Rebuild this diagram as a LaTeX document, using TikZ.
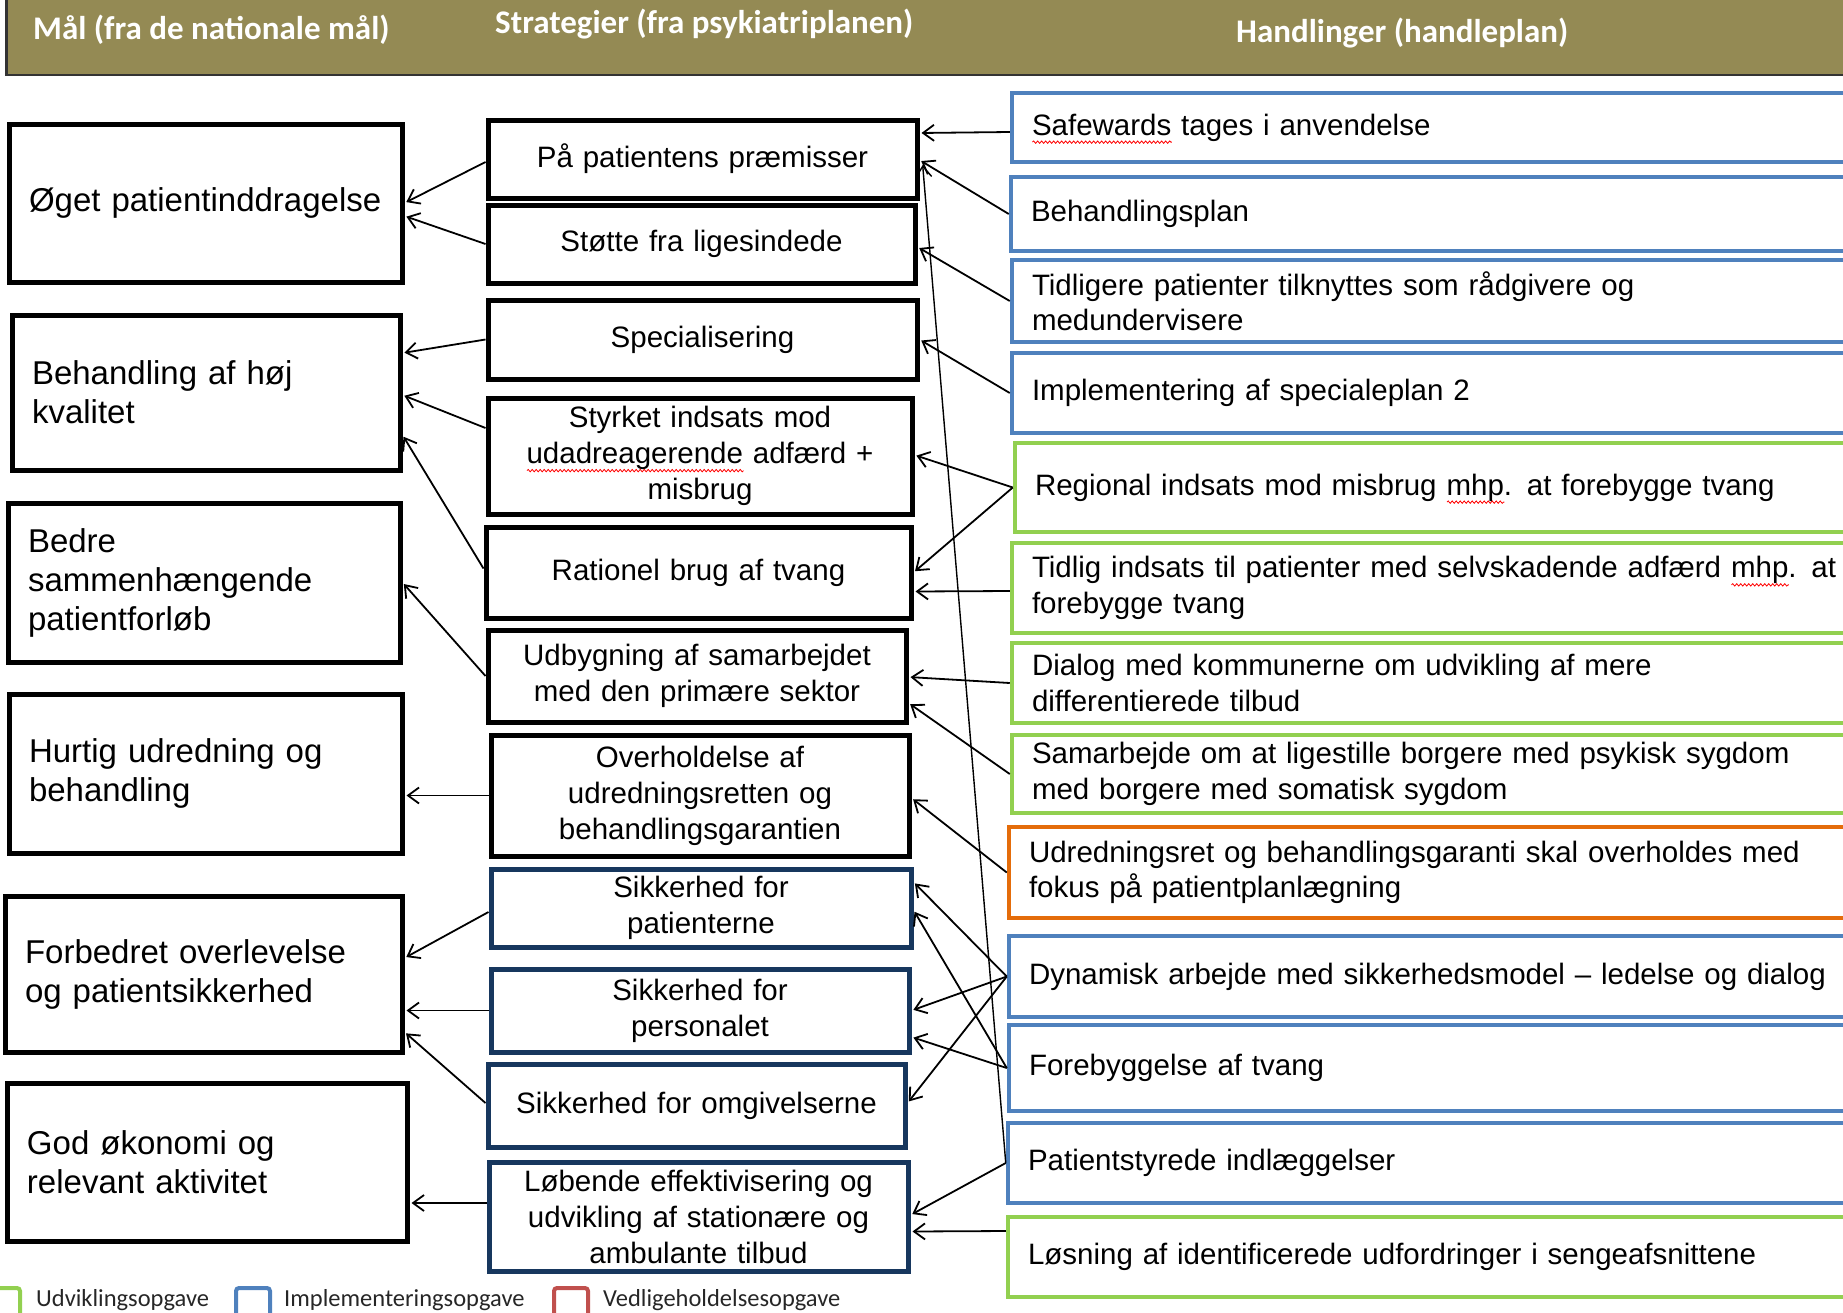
\documentclass[tikz,border=0pt]{standalone}
\usepackage{fontspec}
\setmainfont{Liberation Sans}
\newfontfamily\hdrfont{Carlito}
\usetikzlibrary{arrows.meta,calc,decorations.pathmorphing}
\definecolor{hdrolive}{HTML}{948A54}
\definecolor{actblue}{HTML}{4F81BD}
\definecolor{actgreen}{HTML}{92D050}
\definecolor{actorange}{HTML}{E46C0A}
\definecolor{stratnavy}{HTML}{17375E}
\definecolor{legred}{HTML}{C0504D}
\newlength\spellw
\newcommand\spellwave[1]{\settowidth\spellw{#1}\leavevmode\rlap{\smash{\raisebox{-7pt}{\tikz[baseline=0pt]\draw[red, line width=0.8pt, decorate, decoration={snake, amplitude=1.2pt, segment length=4pt}] (0pt,0pt) -- (\spellw,0pt);}}}#1}
\newcommand\goaltxt{\fontsize{33}{39}\selectfont}
\newcommand\strattxt{\fontsize{29.5}{36}\selectfont}
\newcommand\acttxt{\fontsize{29.5}{35.5}\selectfont}
\begin{document}
\begin{tikzpicture}[x=1pt,y=-1pt,
  goal/.style={draw=black, line width=5pt, inner xsep=20pt, inner ysep=0pt, align=left, font=\goaltxt},
  strat/.style={draw=black, line width=5pt, inner xsep=8pt, inner ysep=0pt, align=center, font=\strattxt},
  navystrat/.style={strat, draw=stratnavy},
  act/.style={draw=#1, line width=4.5pt, inner xsep=20pt, inner ysep=0pt, align=left, font=\acttxt, minimum width=900pt, text width=860pt},
  hdrtext/.style={text=white, inner sep=0pt, font=\hdrfont\bfseries\fontsize{33}{38}\selectfont},
  legtext/.style={text=black!85, inner sep=0pt, font=\hdrfont\fontsize{24.5}{28}\selectfont},
  legbox/.style={line width=4pt, rounded corners=3pt},
  link/.style={line width=1.8pt, shorten >=2pt, -{Straight Barb[length=11pt,width=16pt]}}]
\useasboundingbox (0,0) rectangle (1843,1312);
\clip (0,0) rectangle (1843,1312);
% header
\node[draw=black!80, fill=hdrolive, line width=2.5pt, minimum width=1880pt, minimum height=100pt, anchor=south west, inner sep=0pt] (hdr) at (5,76) {};
\node[hdrtext, anchor=west] (h1) at (33,30) {Mål (fra de nationale mål)};
\node[hdrtext, anchor=west] (h2) at (495,24) {Strategier (fra psykiatriplanen)};
\node[hdrtext, anchor=west] (h3) at (1236,33) {Handlinger (handleplan)};
% goals
\node[goal, minimum width=393pt, minimum height=158pt, text width=353pt] (L1) at (205.5,203) {Øget patientinddragelse};
\node[goal, minimum width=388pt, minimum height=155pt, text width=348pt] (L2) at (206,392.5) {Behandling af høj\\kvalitet};
\node[goal, minimum width=392pt, minimum height=159pt, text width=352pt] (L3) at (204,582.5) {Bedre\\sammenhængende\\patientforløb};
\node[goal, minimum width=393pt, minimum height=159pt, text width=353pt] (L4) at (205.5,773.5) {Hurtig udredning og\\behandling};
\node[goal, minimum width=397pt, minimum height=156pt, text width=357pt] (L5) at (203.5,974) {Forbedret overlevelse\\og patientsikkerhed};
\node[goal, minimum width=400pt, minimum height=158pt, text width=360pt] (L6) at (207,1162) {God økonomi og\\relevant aktivitet};
% strategies
\node[strat, minimum width=429pt, minimum height=78pt, text width=413pt] (M1) at (702.5,159) {På patientens præmisser};
\node[strat, minimum width=427pt, minimum height=78pt, text width=411pt] (M2) at (701.5,244) {Støtte fra ligesindede};
\node[strat, minimum width=429pt, minimum height=79pt, text width=413pt] (M3) at (702.5,339.5) {Specialisering};
\node[strat, minimum width=424pt, minimum height=116pt, text width=408pt] (M4) at (700,456) {Styrket indsats mod\\\spellwave{udadreagerende} adfærd +\\misbrug};
\node[strat, minimum width=425pt, minimum height=91pt, text width=409pt] (M5) at (698.5,572.5) {Rationel brug af tvang};
\node[strat, minimum width=418pt, minimum height=92pt, text width=402pt] (M6) at (697,676) {Udbygning af samarbejdet\\med den primære sektor};
\node[strat, minimum width=418pt, minimum height=121pt, text width=402pt] (M7) at (700,795.5) {Overholdelse af\\udredningsretten og\\behandlingsgarantien};
\node[navystrat, minimum width=420pt, minimum height=78pt, text width=404pt] (M8) at (701,908) {Sikkerhed for\\patienterne};
\node[navystrat, minimum width=418pt, minimum height=83pt, text width=402pt] (M9) at (700,1010.5) {Sikkerhed for\\personalet};
\node[navystrat, minimum width=417pt, minimum height=83pt, text width=401pt] (M10) at (696.5,1105.5) {Sikkerhed for omgivelserne};
\node[navystrat, minimum width=419pt, minimum height=109pt, text width=403pt] (M11) at (698.5,1216.5) {Løbende effektivisering og\\udvikling af stationære og\\ambulante tilbud};
% actions
\node[act=actblue, minimum height=69pt] (R1) at (1462,127.5) {\spellwave{Safewards} tages i anvendelse};
\node[act=actblue, minimum height=74pt] (R2) at (1461,214) {Behandlingsplan};
\node[act=actblue, minimum height=82pt] (R3) at (1462,301) {Tidligere patienter tilknyttes som rådgivere og\\medundervisere};
\node[act=actblue, minimum height=80pt] (R4) at (1462,393) {Implementering af specialeplan 2};
\node[act=actgreen, minimum height=89pt] (R5) at (1465,487.5) {Regional indsats mod misbrug \spellwave{mhp}. at forebygge tvang};
\node[act=actgreen, minimum height=90pt] (R6) at (1462,588) {Tidlig indsats til patienter med selvskadende adfærd \spellwave{mhp}. at\\forebygge tvang};
\node[act=actgreen, minimum height=80pt] (R7) at (1462,683) {Dialog med kommunerne om udvikling af mere\\differentierede tilbud};
\node[act=actgreen, minimum height=78pt] (R8) at (1462,774) {Samarbejde om at ligestille borgere med psykisk sygdom\\med borgere med somatisk sygdom};
\node[act=actorange, minimum height=91pt] (R9) at (1459,872.5) {Udredningsret og behandlingsgaranti skal overholdes med\\fokus på patientplanlægning};
\node[act=actblue, minimum height=81pt] (R10) at (1459,976.5) {Dynamisk arbejde med sikkerhedsmodel – ledelse og dialog};
\node[act=actblue, minimum height=86pt] (R11) at (1459,1068) {Forebyggelse af tvang};
\node[act=actblue, minimum height=80pt] (R12) at (1458,1163) {Patientstyrede indlæggelser};
\node[act=actgreen, minimum height=80pt] (R13) at (1458,1257) {Løsning af identificerede udfordringer i sengeafsnittene};
% strategy -> goal
\draw[link] ($(M1.west)+(0,3)$) -- (L1.east);
\draw[link] (M2.west) -- ($(L1.east)+(0,13)$);
\draw[link] (M3.west) -- ($(L2.east)+(0,-39.5)$);
\draw[link] ($(M4.west)+(0,-28)$) -- ($(L2.east)+(0,2.5)$);
\draw[link] ($(M5.west)+(0,-4)$) -- ($(L2.east)+(0,42.5)$);
\draw[link] (M6.west) -- (L3.east);
\draw[link] (M7.west) -- (M7.west -| L4.east);
\draw[link] ($(M8.west)+(0,4)$) -- ($(L5.east)+(0,-16)$);
\draw[link] (M9.west) -- (M9.west -| L5.east);
\draw[link] ($(M10.west)+(0,-2.5)$) -- ($(L5.east)+(0,58)$);
\draw[link] ($(M11.west)+(0,-13.5)$) -- ($(L6.east)+(0,41)$);
% action -> strategy
\draw[link] ($(R1.west)+(0,4.5)$) -- ($(M1.east)+(0,-26)$);
\draw[link] (R2.west) -- ($(M1.east)+(0,1)$);
\draw[link] (R3.west) -- ($(M2.east)+(0,3)$);
\draw[link] (R4.west) -- (M3.east);
\draw[link] (R5.west) -- ($(M4.east)+(0,-1)$);
\draw[link] (R5.west) -- (M5.east);
\draw[link] ($(R6.west)+(0,3)$) -- ($(M5.east)+(0,19)$);
\draw[link] (R7.west) -- ($(M6.east)+(0,1)$);
\draw[link] (R8.west) -- ($(M6.east)+(0,27)$);
\draw[link] (R9.west) -- ($(M7.east)+(0,2.5)$);
\draw[link] (R10.west) -- ($(M8.east)+(0,-26)$);
\draw[link] (R10.west) -- (M9.east);
\draw[link] (R10.west) -- ($(M10.east)+(0,-2.5)$);
\draw[link] (R11.west) -- ($(M8.east)+(0,2)$);
\draw[link] (R11.west) -- ($(M9.east)+(0,26.5)$);
\draw[link] (R12.west) -- ($(M11.east)+(0,-1.5)$);
\draw[link] ($(R13.west)+(0,-26)$) -- ($(M11.east)+(0,15)$);
\draw[link, line width=1.4pt] (R12.west) -- ($(M1.east)+(3,4)$);
% legend
\draw[legbox, draw=actgreen] (-14,1288) rectangle (20,1330);
\node[legtext, anchor=base west] (lg1) at (36,1306) {Udviklingsopgave};
\draw[legbox, draw=actblue] (236,1288) rectangle (270,1330);
\node[legtext, anchor=base west] (lg2) at (284,1306) {Implementeringsopgave};
\draw[legbox, draw=legred] (554,1288) rectangle (588,1330);
\node[legtext, anchor=base west] (lg3) at (603,1306) {Vedligeholdelsesopgave};
\end{tikzpicture}
\end{document}
